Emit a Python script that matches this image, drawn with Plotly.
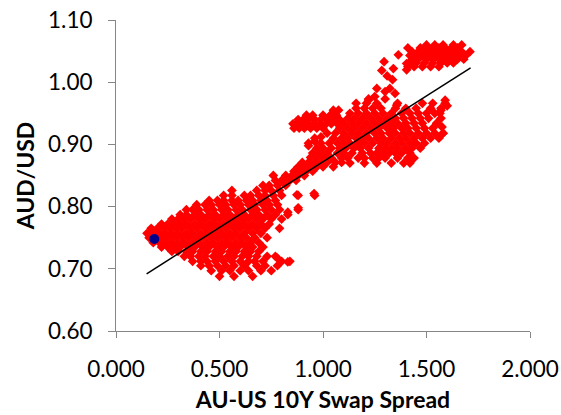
import plotly.graph_objects as go

# ---- data: rows of (AUD/USD, [swap spread values]) ----
lower_rows = [
    (0.688, [0.50, 0.57, 0.66]),
    (0.697, [0.46, 0.51, 0.55, 0.60, 0.64, 0.70, 0.75]),
    (0.705, [0.41, 0.45, 0.49, 0.53, 0.57, 0.62, 0.68, 0.72, 0.78]),
    (0.712, [0.37, 0.41, 0.44, 0.48, 0.52, 0.56, 0.60, 0.64, 0.67, 0.71, 0.80, 0.84]),
    (0.720, [0.33, 0.36, 0.40, 0.43, 0.47, 0.50, 0.54, 0.57, 0.61, 0.64, 0.68, 0.73, 0.77]),
    (0.728, [0.27, 0.30, 0.34, 0.37, 0.41, 0.44, 0.48, 0.51, 0.55, 0.58, 0.62, 0.65, 0.69]),
    (0.735, [0.22, 0.25, 0.28, 0.31, 0.35, 0.38, 0.42, 0.45, 0.49, 0.52, 0.56, 0.59, 0.63, 0.66, 0.71]),
    (0.742, [0.18, 0.21, 0.24, 0.27, 0.30, 0.33, 0.37, 0.40, 0.44, 0.47, 0.51, 0.54, 0.58, 0.61, 0.65, 0.69]),
    (0.750, [0.16, 0.20, 0.23, 0.26, 0.29, 0.32, 0.35, 0.39, 0.42, 0.46, 0.49, 0.53, 0.56, 0.60, 0.63, 0.67, 0.73]),
    (0.757, [0.15, 0.18, 0.21, 0.24, 0.27, 0.30, 0.34, 0.37, 0.41, 0.44, 0.48, 0.51, 0.55, 0.58, 0.62, 0.66, 0.70]),
    (0.765, [0.17, 0.20, 0.23, 0.26, 0.29, 0.32, 0.36, 0.39, 0.43, 0.46, 0.50, 0.53, 0.57, 0.60, 0.64, 0.68, 0.72, 0.79]),
    (0.772, [0.22, 0.25, 0.28, 0.31, 0.34, 0.38, 0.41, 0.45, 0.48, 0.52, 0.55, 0.59, 0.62, 0.66, 0.70, 0.74]),
    (0.780, [0.27, 0.30, 0.33, 0.36, 0.40, 0.43, 0.47, 0.50, 0.54, 0.57, 0.61, 0.64, 0.68, 0.71, 0.75, 0.80]),
    (0.787, [0.31, 0.34, 0.38, 0.41, 0.45, 0.48, 0.52, 0.55, 0.59, 0.62, 0.66, 0.69, 0.73, 0.77, 0.83]),
    (0.795, [0.34, 0.37, 0.40, 0.44, 0.47, 0.51, 0.54, 0.58, 0.61, 0.65, 0.68, 0.72, 0.75, 0.79, 0.88]),
    (0.803, [0.39, 0.43, 0.46, 0.50, 0.53, 0.57, 0.60, 0.64, 0.67, 0.71, 0.74, 0.78]),
    (0.810, [0.45, 0.49, 0.52, 0.56, 0.59, 0.63, 0.66, 0.70, 0.73, 0.77]),
    (0.818, [0.52, 0.56, 0.62, 0.65, 0.69, 0.72, 0.76, 0.80, 0.88, 0.96]),
    (0.826, [0.56, 0.68, 0.72, 0.75, 0.79]),
    (0.834, [0.71, 0.74, 0.78, 0.82]),
]

band_rows = [
    (0.842, [0.77, 0.80, 0.84, 0.87]),
    (0.850, [0.76, 0.82, 0.85, 0.88, 0.91]),
    (0.857, [0.86, 0.89, 0.92, 0.95]),
    (0.864, [0.88, 0.91, 0.94, 0.97, 1.00, 1.05]),
    (0.871, [0.90, 0.93, 0.96, 0.99, 1.02, 1.06, 1.09]),
    (0.879, [0.94, 0.97, 1.00]),
    (0.886, [0.95, 0.98, 1.02]),
    (0.894, [0.97, 1.00, 1.04]),
    (0.902, [0.93, 0.99]),
    (0.910, [0.96]),
]

arm_rows = [
    (0.926, [0.86, 0.885, 0.91, 0.94, 0.97, 1.00]),
    (0.933, [0.855, 0.875, 0.90, 0.925, 0.955, 0.985, 1.015, 1.04, 1.07]),
    (0.940, [0.88, 0.905, 0.93, 0.96, 0.99, 1.02, 1.05, 1.08]),
    (0.947, [0.92, 0.95, 1.00, 1.035, 1.065]),
    (0.955, [1.05, 1.075]),
]

core_rows = [
    (0.870, [1.13, 1.20, 1.26, 1.33, 1.39, 1.42]),
    (0.878, [1.04, 1.09, 1.12, 1.17, 1.20, 1.24, 1.27, 1.30, 1.36, 1.41, 1.44]),
    (0.886, [1.07, 1.10, 1.14, 1.19, 1.23, 1.26, 1.29, 1.32, 1.35, 1.38, 1.42]),
    (0.894, [1.08, 1.11, 1.15, 1.18, 1.22, 1.27, 1.30, 1.33, 1.36, 1.40, 1.43, 1.47]),
    (0.902, [1.03, 1.07, 1.10, 1.13, 1.17, 1.20, 1.24, 1.28, 1.31, 1.35, 1.38, 1.42, 1.45, 1.49]),
    (0.910, [1.05, 1.09, 1.12, 1.16, 1.19, 1.22, 1.26, 1.29, 1.33, 1.37, 1.40, 1.44, 1.48, 1.52, 1.56]),
    (0.918, [1.02, 1.06, 1.10, 1.14, 1.17, 1.21, 1.25, 1.28, 1.32, 1.35, 1.39, 1.42, 1.46, 1.50, 1.54, 1.58]),
    (0.926, [1.08, 1.12, 1.15, 1.19, 1.23, 1.27, 1.31, 1.34, 1.38, 1.41, 1.45, 1.49, 1.53]),
    (0.934, [1.10, 1.14, 1.17, 1.21, 1.25, 1.29, 1.33, 1.36, 1.40, 1.44, 1.48, 1.55]),
    (0.942, [1.12, 1.15, 1.19, 1.23, 1.27, 1.31, 1.35, 1.39, 1.43, 1.47, 1.51, 1.57]),
    (0.950, [1.13, 1.17, 1.21, 1.25, 1.29, 1.33, 1.38, 1.42, 1.46, 1.50, 1.54]),
    (0.958, [1.16, 1.20, 1.24, 1.28, 1.35, 1.40, 1.45, 1.52, 1.57]),
    (0.966, [1.16, 1.21, 1.26, 1.36, 1.48, 1.53, 1.59]),
    (0.973, [1.22, 1.30]),
]

upper_rows = [
    (1.025, [1.41, 1.44, 1.48, 1.52, 1.56]),
    (1.031, [1.42, 1.45, 1.49, 1.53, 1.57, 1.60, 1.63]),
    (1.037, [1.43, 1.46, 1.50, 1.53, 1.56, 1.59, 1.62, 1.65, 1.68]),
    (1.043, [1.42, 1.45, 1.48, 1.51, 1.54, 1.57, 1.60, 1.63, 1.66, 1.69]),
    (1.049, [1.43, 1.46, 1.49, 1.52, 1.55, 1.58, 1.61, 1.64, 1.67, 1.71]),
    (1.055, [1.41, 1.47, 1.50, 1.53, 1.56, 1.59, 1.62, 1.65]),
    (1.060, [1.50, 1.54, 1.58, 1.63, 1.67]),
]

# scattered individual observations
extra_x = [0.874, 0.957, 0.88, 0.83, 0.78, 0.83, 0.96, 0.99, 0.93,
           1.59, 1.565, 1.58, 1.55, 1.57, 1.60, 1.575,
           1.295, 1.284, 1.364, 1.34, 1.356, 1.336, 1.323, 1.348, 1.26,
           1.25, 1.22, 1.404, 1.404, 1.30, 1.31]
extra_y = [0.819, 0.821, 0.798, 0.791, 0.717, 0.711, 0.905, 0.912, 0.898,
           0.971, 0.950, 0.918, 0.934, 0.955, 0.962, 0.928,
           1.033, 1.019, 1.044, 1.022, 0.963, 1.004, 0.990, 0.982, 0.990,
           0.977, 0.971, 1.020, 1.030, 0.985, 1.010]

trend_x = [0.148, 1.713]
trend_y = [0.692, 1.023]

latest_x = [0.185]
latest_y = [0.748]

spread, audusd = [], []
for rows in (lower_rows, band_rows, arm_rows, core_rows, upper_rows):
    for yv, xs in rows:
        for xv in xs:
            spread.append(xv)
            audusd.append(yv)
spread += extra_x
audusd += extra_y

fig = go.Figure()
fig.add_trace(go.Scatter(x=spread, y=audusd, mode="markers",
                         marker=dict(symbol="diamond", size=7.5, color="#ff0000"),
                         hoverinfo="skip"))
fig.add_trace(go.Scatter(x=trend_x, y=trend_y, mode="lines",
                         line=dict(color="black", width=1.5), hoverinfo="skip"))
fig.add_trace(go.Scatter(x=latest_x, y=latest_y, mode="markers",
                         marker=dict(symbol="circle", size=10, color="#00008b"),
                         hoverinfo="skip"))

fig.update_layout(
    width=561, height=415,
    margin=dict(l=116, r=31, t=20, b=84),
    paper_bgcolor="white", plot_bgcolor="white",
    showlegend=False,
    font=dict(family="Lato", color="black"),
)
fig.update_xaxes(
    automargin=False,
    range=[0, 2], tickvals=[0, 0.5, 1, 1.5, 2], tickformat=".3f",
    showline=True, linecolor="#868686", linewidth=1,
    ticks="outside", tickcolor="#868686", ticklen=6, tickwidth=1,
    showgrid=False, zeroline=False,
    tickfont=dict(size=22.5), ticklabelstandoff=12,
    title=dict(text="<b>AU-US 10Y Swap Spread</b>", font=dict(size=23), standoff=10),
)
fig.update_yaxes(
    automargin=False,
    range=[0.6, 1.1], tickvals=[0.6, 0.7, 0.8, 0.9, 1.0, 1.1], tickformat=".2f",
    showline=True, linecolor="#868686", linewidth=1,
    ticks="outside", tickcolor="#868686", ticklen=7, tickwidth=1,
    showgrid=False, zeroline=False,
    tickfont=dict(size=22.5), ticklabelstandoff=11,
    title=dict(text="<b>AUD/USD</b>", font=dict(size=23), standoff=6),
)

fig.write_html("out.html")
